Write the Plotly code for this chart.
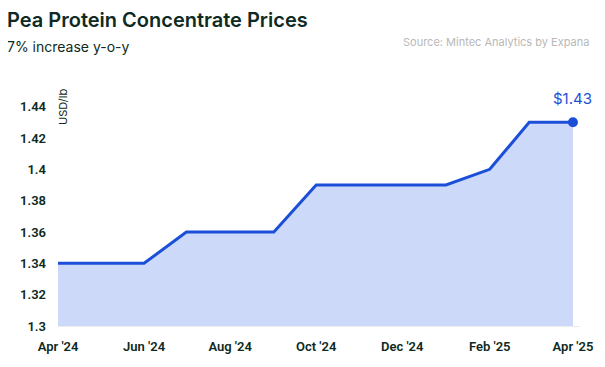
import plotly.graph_objects as go

months = ["2024-04-01", "2024-05-01", "2024-06-01", "2024-07-01", "2024-08-01",
          "2024-09-01", "2024-10-01", "2024-11-01", "2024-12-01", "2025-01-01",
          "2025-02-01", "2025-03-01", "2025-04-01"]
prices = [1.34, 1.34, 1.34, 1.36, 1.36, 1.36, 1.39, 1.39, 1.39, 1.39, 1.40, 1.43, 1.43]
y_ticks = [1.3, 1.32, 1.34, 1.36, 1.38, 1.4, 1.42, 1.44]
y_tick_text = ["1.3", "1.32", "1.34", "1.36", "1.38", "1.4", "1.42", "1.44"]

LINE = "#1b4fd8"
FILL = "#ccd9f8"
DARK = "#0e2a22"

fig = go.Figure()
fig.add_trace(go.Scatter(
    x=months, y=prices, mode="lines", line=dict(color=LINE, width=3),
    fill="tozeroy", fillcolor=FILL, hoverinfo="skip", showlegend=False))
fig.add_trace(go.Scatter(
    x=[months[-1]], y=[prices[-1]], mode="markers",
    marker=dict(color=LINE, size=10), showlegend=False, hoverinfo="skip"))

fig.add_annotation(x=months[-1], y=prices[-1], xref="x", yref="y",
                   text="$%.2f" % prices[-1], showarrow=False, yshift=24,
                   font=dict(family="Inter", size=15, color=LINE))

OFF = 8  # page body margin
W, H = 605, 367
L, T = 56 - OFF, 91 - OFF
R = W - (580 - OFF)
B = H - (326 - OFF)
pw, ph = W - L - R, H - T - B
def px(x): return (x - OFF - L) / pw
def py(y): return (H - B - (y - OFF)) / ph

fig.add_annotation(x=px(3), y=py(20), xref="paper", yref="paper", xanchor="left", yanchor="middle",
                   text="Pea Protein Concentrate Prices", showarrow=False,
                   font=dict(family="Inter", size=20, color=DARK, weight=600))
fig.add_annotation(x=px(3), y=py(47), xref="paper", yref="paper", xanchor="left", yanchor="middle",
                   text="7% increase y-o-y", showarrow=False,
                   font=dict(family="Inter", size=14, color=DARK))
fig.add_annotation(x=px(591), y=py(42), xref="paper", yref="paper", xanchor="right", yanchor="middle",
                   text="Source: Mintec Analytics by Expana", showarrow=False,
                   font=dict(family="Inter", size=11, color="#b8b8b8"))
fig.add_annotation(x=px(61), y=py(87), xref="paper", yref="paper", xanchor="center", yanchor="top",
                   text="USD/lb", showarrow=False, textangle=-90,
                   font=dict(family="Inter", size=11, color=DARK))

fig.update_layout(
    width=W, height=H, margin=dict(l=L, r=R, t=T, b=B),
    paper_bgcolor="white", plot_bgcolor="white",
    font=dict(family="Roboto", color=DARK),
    xaxis=dict(range=["2024-04-01", "2025-04-06"], tickformat="%b '%y", dtick="M2",
               tick0="2024-04-01", showgrid=False, zeroline=False, showline=True,
               linecolor="#ececec", linewidth=1, ticks="", ticklabelstandoff=8,
               tickfont=dict(family="Roboto", size=13, color=DARK, weight=600)),
    yaxis=dict(range=[1.3, 1.45], tickvals=y_ticks, ticktext=y_tick_text, showgrid=False,
               zeroline=False, showline=False, ticks="", ticklabelstandoff=11,
               tickfont=dict(family="Roboto", size=13, color=DARK, weight=600)),
)

fig.write_html("out.html")
